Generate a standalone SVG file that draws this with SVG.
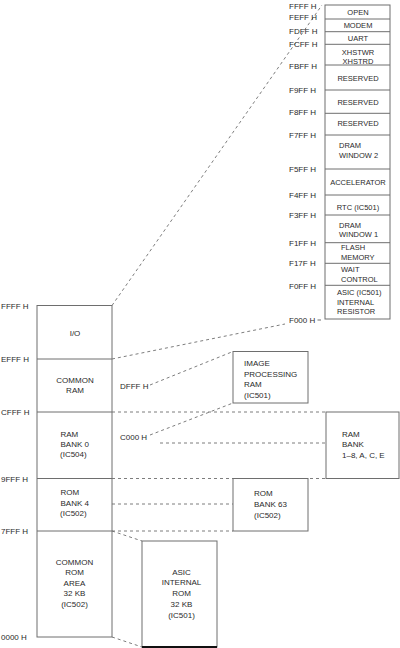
<svg xmlns="http://www.w3.org/2000/svg" width="400" height="648" viewBox="0 0 400 648">
<style>
text{font-family:"Liberation Sans",Arial,sans-serif;fill:#2a2a2a}
.lb{font-size:8px}
.bx{font-size:8px}
.rc{font-size:7.5px}
.c{text-anchor:middle}
.box{fill:#fff;stroke:#6e6e6e;stroke-width:1}
.ln{stroke:#6e6e6e;stroke-width:1;fill:none}
.dash{stroke:#6e6e6e;stroke-width:0.9;fill:none;stroke-dasharray:3,3}
</style>
<rect width="400" height="648" fill="#fff"/>

<g id="connectors">
<line class="dash" x1="112" y1="305.5" x2="322" y2="5"/>
<line class="dash" x1="112" y1="359" x2="285" y2="324"/>
<line class="ln" x1="317.5" y1="320" x2="321" y2="320"/>
<line class="dash" x1="150" y1="385" x2="233" y2="351.5"/>
<line class="dash" x1="150" y1="435" x2="233" y2="403"/>
<line class="dash" x1="112" y1="412" x2="326" y2="412"/>
<line class="dash" x1="160" y1="443" x2="326" y2="443"/>
<line class="dash" x1="112" y1="478.5" x2="326" y2="478.5"/>
<line class="dash" x1="112" y1="504" x2="233" y2="504"/>
<line class="dash" x1="112" y1="531" x2="233" y2="531"/>
<line class="dash" x1="112" y1="531" x2="142" y2="541"/>
<line class="dash" x1="112" y1="637" x2="142" y2="647"/>
</g>

<g id="address-labels-left" class="lb">
<text x="1" y="308.5">FFFF H</text>
<text x="1" y="362">EFFF H</text>
<text x="1" y="415">CFFF H</text>
<text x="1" y="482">9FFF H</text>
<text x="1" y="534">7FFF H</text>
<text x="1" y="640">0000 H</text>
</g>

<g id="main-map">
<rect class="box" x="37" y="305.5" width="75" height="331.5"/>
<line class="ln" x1="37" y1="359" x2="112" y2="359"/>
<line class="ln" x1="37" y1="412" x2="112" y2="412"/>
<line class="ln" x1="37" y1="478.5" x2="112" y2="478.5"/>
<line class="ln" x1="37" y1="531" x2="112" y2="531"/>
</g>
<g id="io" class="bx"><text class="c" x="75" y="336">I/O</text></g>
<g id="common-ram" class="bx"><text class="c" x="75" y="383">COMMON</text><text class="c" x="75" y="392.5">RAM</text></g>
<g id="ram-bank-0" class="bx"><text x="60.5" y="437">RAM</text><text x="60.5" y="447">BANK 0</text><text x="60" y="457">(IC504)</text></g>
<g id="rom-bank-4" class="bx"><text x="60.5" y="494.5">ROM</text><text x="60.5" y="505.5">BANK 4</text><text x="60" y="516">(IC502)</text></g>
<g id="common-rom" class="bx">
<text class="c" x="74.5" y="564.5">COMMON</text><text class="c" x="74.5" y="575">ROM</text><text class="c" x="74.5" y="585.5">AREA</text><text class="c" x="74.5" y="596">32 KB</text><text class="c" x="74.5" y="606.5">(IC502)</text>
</g>

<g id="mid-labels" class="lb">
<text x="120" y="389">DFFF H</text>
<text x="120" y="440">C000 H</text>
</g>

<g id="image-processing-ram" class="bx">
<rect class="box" x="233" y="351.5" width="75" height="51.5"/>
<text x="244" y="366">IMAGE</text><text x="244" y="376.5">PROCESSING</text><text x="244" y="387">RAM</text><text x="244" y="398">(IC501)</text>
</g>

<g id="ram-bank-1-8" class="bx">
<rect class="box" x="326" y="412" width="73" height="66.5"/>
<text x="342" y="437">RAM</text><text x="342" y="447">BANK</text><text x="342" y="458">1–8, A, C, E</text>
</g>

<g id="rom-bank-63" class="bx">
<rect class="box" x="233" y="478.5" width="75" height="52.5"/>
<text x="254" y="496">ROM</text><text x="254" y="507">BANK 63</text><text x="254" y="518">(IC502)</text>
</g>

<g id="asic-internal-rom" class="bx">
<rect class="box" x="142" y="541" width="75" height="106"/>
<line x1="142" y1="647" x2="217" y2="647" stroke="#111" stroke-width="2"/>
<text class="c" x="181.5" y="574.5">ASIC</text><text class="c" x="181.5" y="585">INTERNAL</text><text class="c" x="181.5" y="596">ROM</text><text class="c" x="181.5" y="606.5">32 KB</text><text class="c" x="181.5" y="617.5">(IC501)</text>
</g>

<g id="address-labels-right" class="lb">
<text x="289" y="8.5">FFFF H</text>
<text x="289" y="19.5">FEFF H</text>
<text x="289" y="34">FDFF H</text>
<text x="289" y="46.5">FCFF H</text>
<text x="289" y="68.5">FBFF H</text>
<text x="289" y="92.5">F9FF H</text>
<text x="289" y="114.5">F8FF H</text>
<text x="289" y="137.5">F7FF H</text>
<text x="289" y="172">F5FF H</text>
<text x="289" y="198">F4FF H</text>
<text x="289" y="218">F3FF H</text>
<text x="289" y="246">F1FF H</text>
<text x="289" y="266">F17F H</text>
<text x="289" y="288.5">F0FF H</text>
<text x="289" y="322.5">F000 H</text>
</g>

<g id="io-map">
<rect class="box" x="325" y="5" width="65" height="314"/>
<line class="ln" x1="325" y1="19" x2="390" y2="19"/>
<line class="ln" x1="325" y1="31.7" x2="390" y2="31.7"/>
<line class="ln" x1="325" y1="44.3" x2="390" y2="44.3"/>
<line class="ln" x1="325" y1="65" x2="390" y2="65"/>
<line class="ln" x1="325" y1="90" x2="390" y2="90"/>
<line class="ln" x1="325" y1="113.3" x2="390" y2="113.3"/>
<line class="ln" x1="325" y1="135" x2="390" y2="135"/>
<line class="ln" x1="325" y1="169" x2="390" y2="169"/>
<line class="ln" x1="325" y1="195" x2="390" y2="195"/>
<line class="ln" x1="325" y1="215" x2="390" y2="215"/>
<line class="ln" x1="325" y1="242.7" x2="390" y2="242.7"/>
<line class="ln" x1="325" y1="263.3" x2="390" y2="263.3"/>
<line class="ln" x1="325" y1="285.3" x2="390" y2="285.3"/>
</g>
<g id="open" class="rc"><text class="c" x="358" y="14.5">OPEN</text></g>
<g id="modem" class="rc"><text class="c" x="358" y="27.5">MODEM</text></g>
<g id="uart" class="rc"><text class="c" x="358" y="41">UART</text></g>
<g id="xhst" class="rc"><text class="c" x="358" y="54.5">XHSTWR</text><text class="c" x="358" y="63.5">XHSTRD</text></g>
<g id="reserved-1" class="rc"><text class="c" x="358" y="80.5">RESERVED</text></g>
<g id="reserved-2" class="rc"><text class="c" x="358" y="104.5">RESERVED</text></g>
<g id="reserved-3" class="rc"><text class="c" x="358" y="126">RESERVED</text></g>
<g id="dram-window-2" class="rc"><text x="339" y="147.5">DRAM</text><text x="339" y="157.5">WINDOW 2</text></g>
<g id="accelerator" class="rc"><text class="c" x="358" y="184.5">ACCELERATOR</text></g>
<g id="rtc" class="rc"><text class="c" x="358" y="209.5">RTC (IC501)</text></g>
<g id="dram-window-1" class="rc"><text x="339" y="227.5">DRAM</text><text x="339" y="237">WINDOW 1</text></g>
<g id="flash-memory" class="rc"><text x="341" y="250">FLASH</text><text x="341" y="259.5">MEMORY</text></g>
<g id="wait-control" class="rc"><text x="341" y="272">WAIT</text><text x="341" y="281.5">CONTROL</text></g>
<g id="asic-internal-resistor" class="rc"><text x="337" y="294.5">ASIC (IC501)</text><text x="337" y="304.5">INTERNAL</text><text x="337" y="314">RESISTOR</text></g>
</svg>
